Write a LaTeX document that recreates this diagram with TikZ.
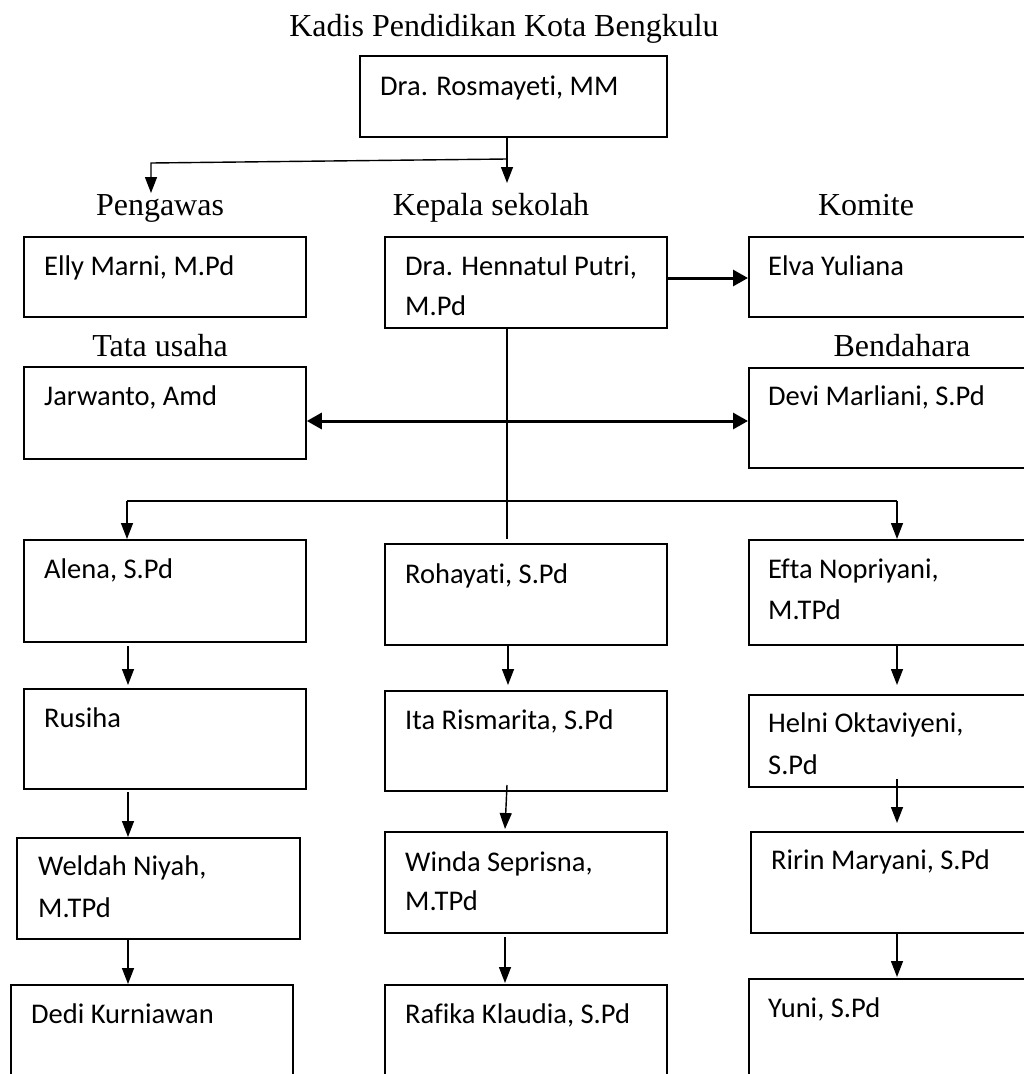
\documentclass[tikz,border=0pt]{standalone}
\usepackage{fontspec}
\setmainfont{Liberation Serif}
\newfontfamily\boxfont[Ligatures=NoCommon,RawFeature={-liga;-clig;-dlig}]{Carlito}
\usetikzlibrary{arrows.meta}
\tikzset{
  orgbox/.style={draw, line width=1.8pt, inner sep=0pt, rectangle},
  nametext/.style={anchor=base west, inner sep=0pt, font=\boxfont\fontsize{28.5}{34}\selectfont},
  headtext/.style={anchor=base, inner sep=0pt, font=\fontsize{32}{38}\selectfont},
  arr/.style={line width=1.4pt, -{Triangle[length=16pt,width=12pt]}},
  thickarr/.style={line width=3pt, -{Triangle[length=15pt,width=16pt]}},
  dblarr/.style={line width=3pt, {Triangle[length=15pt,width=16pt]}-{Triangle[length=15pt,width=16pt]}},
  plain/.style={line width=1.4pt},
}
\newcommand{\orgrect}[5]{\node[orgbox, minimum width={#4-#2}, minimum height={#5-#3}, anchor=north west] (#1) at (#2,#3) {};}
\begin{document}
\begin{tikzpicture}[x=1pt,y=-1pt]
\useasboundingbox (0,0) rectangle (1024,1074);
\clip (0,0) rectangle (1024,1074);
% boxes
\orgrect{top}{359}{55}{666}{136}
\orgrect{elly}{23}{236}{305}{316}
\orgrect{henn}{384}{236}{666}{327}
\orgrect{elva}{748}{236}{1040}{316}
\orgrect{jarw}{23}{366}{305}{458}
\orgrect{devi}{748}{367}{1040}{467}
\orgrect{alena}{23}{539}{305}{641}
\orgrect{roha}{384}{543}{666}{644}
\orgrect{efta}{748}{539}{1040}{644}
\orgrect{rusi}{23}{688}{305}{788}
\orgrect{ita}{384}{690}{666}{790}
\orgrect{helni}{748}{694}{1040}{786}
\orgrect{weld}{16}{837}{299}{938}
\orgrect{winda}{384}{831}{666}{932}
\orgrect{ririn}{750}{831}{1040}{932}
\orgrect{dedi}{10}{984}{292}{1090}
\orgrect{rafika}{384}{984}{666}{1090}
\orgrect{yuni}{748}{978}{1040}{1090}
% headings
\node[headtext] (title) at (504,36) {Kadis Pendidikan Kota Bengkulu};
\node[headtext] (hpeng) at (160,215) {Pengawas};
\node[headtext] (hkep) at (491,215) {Kepala sekolah};
\node[headtext] (hkom) at (866,215) {Komite};
\node[headtext] (htata) at (160,356) {Tata usaha};
\node[headtext] (hbend) at (902,356) {Bendahara};
% names
\node[nametext] (ttop) at (380,95) {Dra. Rosmayeti, MM};
\node[nametext] (telly) at (44,275) {Elly Marni, M.Pd};
\node[nametext] (thenn) at (405,275) {Dra. Hennatul Putri,};
\node[nametext] (thenn2) at (405,315) {M.Pd};
\node[nametext] (telva) at (768,275) {Elva Yuliana};
\node[nametext] (tjarw) at (44,405) {Jarwanto, Amd};
\node[nametext] (tdevi) at (768,405) {Devi Marliani, S.Pd};
\node[nametext] (talena) at (44,578) {Alena, S.Pd};
\node[nametext] (troha) at (405,583) {Rohayati, S.Pd};
\node[nametext] (tefta) at (768,578) {Efta Nopriyani,};
\node[nametext] (tefta2) at (768,619) {M.TPd};
\node[nametext] (trusi) at (44,727) {Rusiha};
\node[nametext] (tita) at (405,729) {Ita Rismarita, S.Pd};
\node[nametext] (thelni) at (768,732) {Helni Oktaviyeni,};
\node[nametext] (thelni2) at (768,774) {S.Pd};
\node[nametext] (tweld) at (38,875) {Weldah Niyah,};
\node[nametext] (tweld2) at (38,917) {M.TPd};
\node[nametext] (twinda) at (405,871) {Winda Seprisna,};
\node[nametext] (twinda2) at (405,910) {M.TPd};
\node[nametext] (tririn) at (771,869) {Ririn Maryani, S.Pd};
\node[nametext] (tdedi) at (31,1023) {Dedi Kurniawan};
\node[nametext] (trafika) at (405,1023) {Rafika Klaudia, S.Pd};
\node[nametext] (tyuni) at (768,1017) {Yuni, S.Pd};
% connector coordinates
\coordinate (kadisA) at (507,136);
\coordinate (kadisB) at (507,183);
\coordinate (brA) at (507,159);
\coordinate (brB) at (151,163);
\coordinate (brC) at (151,193);
\coordinate (hdown) at (507,539);
\coordinate (barL) at (127,501);
\coordinate (barR) at (897,501);
% top connectors
\draw[arr] (kadisA) -- (kadisB);
\draw[arr] (brA) -- (brB) -- (brC);
\draw[thickarr] (henn.east |- 0,278) -- (elva.west |- 0,278);
\draw[plain] (henn.south -| hdown) -- (hdown);
\draw[dblarr] (jarw.east |- 0,421) -- (devi.west |- 0,421);
\draw[plain] (barL) -- (barR);
\draw[arr] (barL) -- (alena.north -| barL);
\draw[arr] (barR) -- (efta.north -| barR);
% column arrows
\draw[arr] (128,646) -- (128,685);
\draw[arr] (508,646) -- (508,685);
\draw[arr] (897,646) -- (897,685);
\draw[arr] (128,792) -- (weld.north -| 128,0);
\draw[arr] (507,785) -- (505,829);
\draw[arr] (897,779) -- (897,823);
\draw[arr] (128,938) -- (dedi.north -| 128,0);
\draw[arr] (505,937) -- (505,983);
\draw[arr] (897,932) -- (897,977);
\end{tikzpicture}
\end{document}
